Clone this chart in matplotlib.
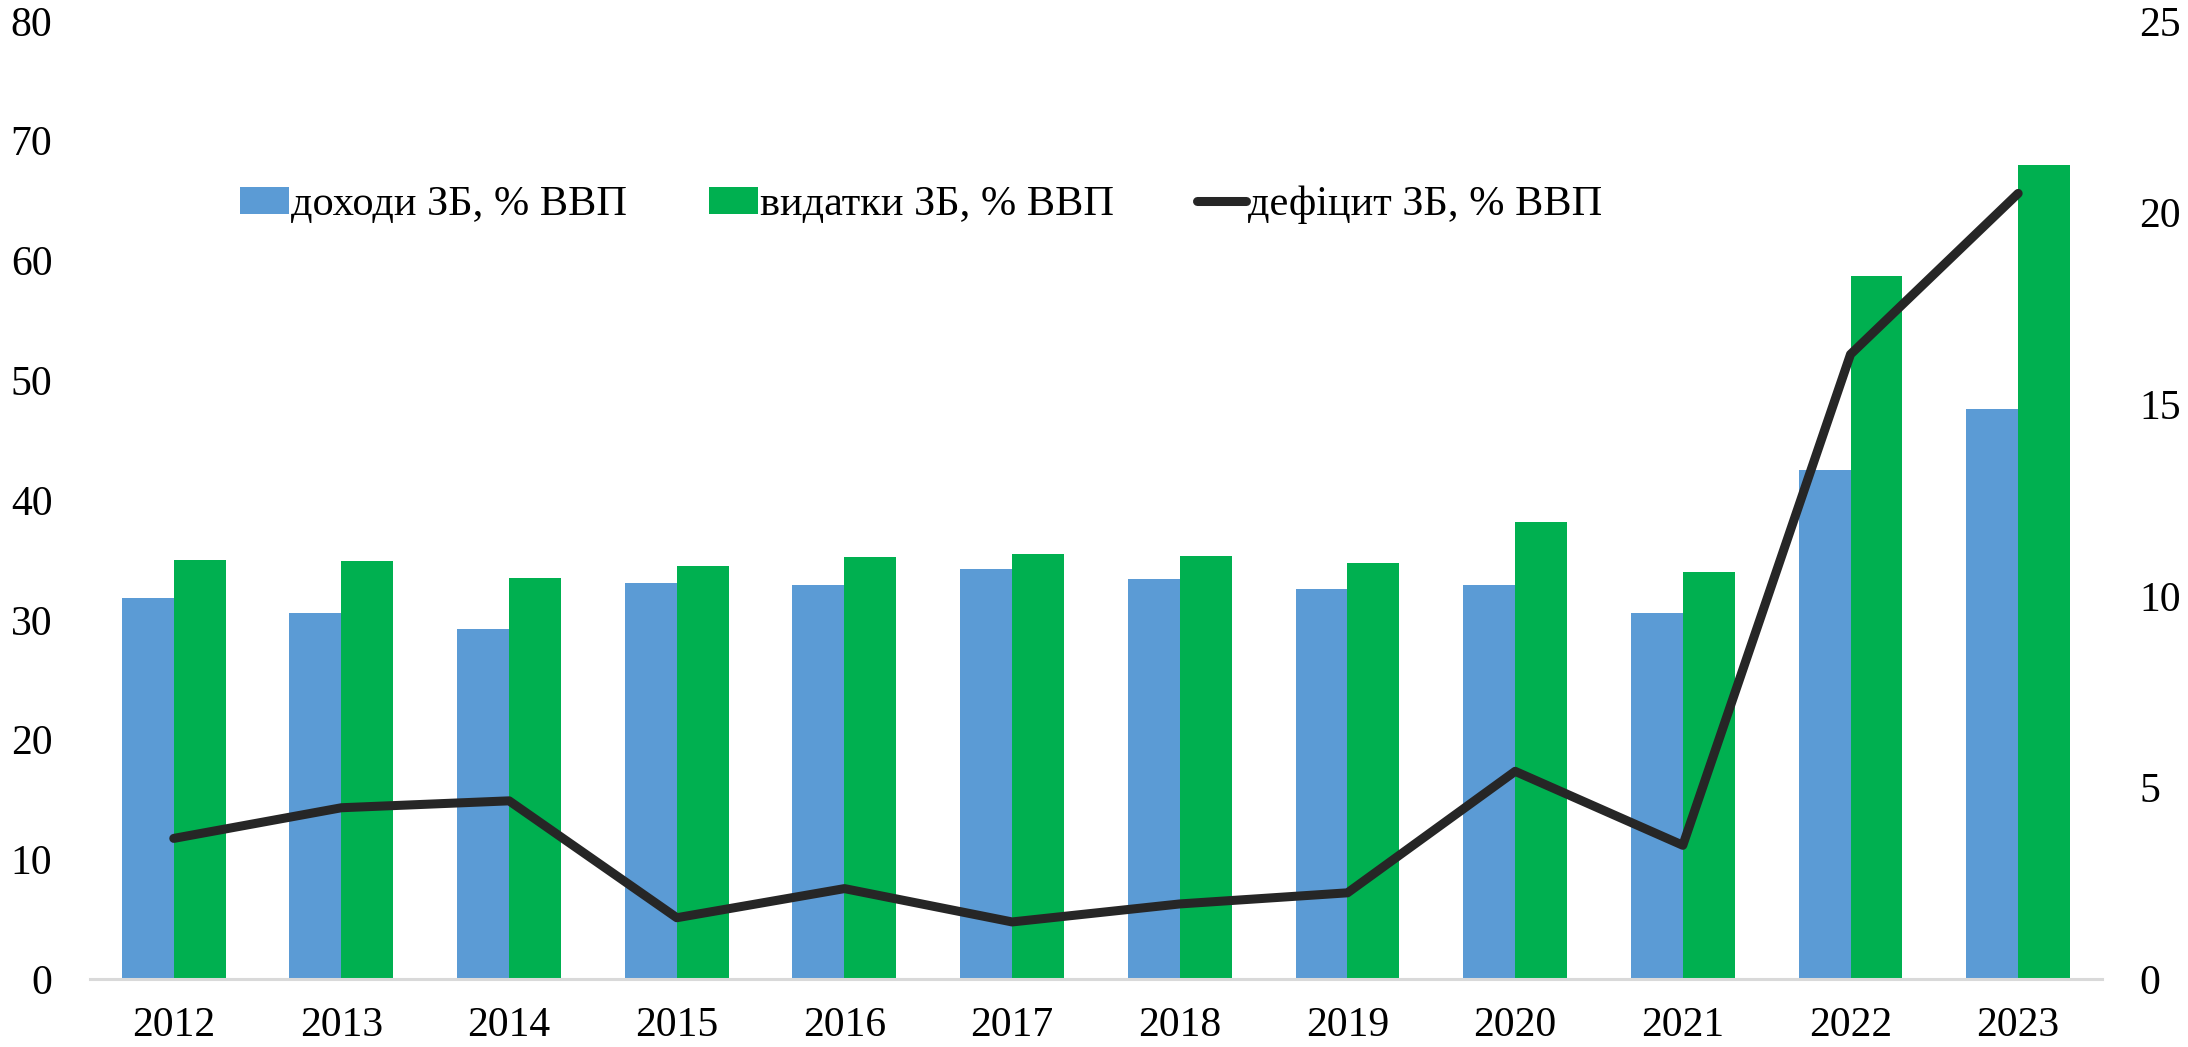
import numpy as np
import matplotlib.pyplot as plt

years = ['2012', '2013', '2014', '2015', '2016', '2017', '2018', '2019', '2020', '2021', '2022', '2023']
revenue = [31.8, 30.6, 29.2, 33.1, 32.9, 34.2, 33.4, 32.6, 32.9, 30.6, 42.5, 47.6]
spending = [35.0, 34.9, 33.5, 34.5, 35.2, 35.5, 35.3, 34.7, 38.2, 34.0, 58.7, 68.0]
deficit = [3.67, 4.47, 4.65, 1.6, 2.36, 1.49, 1.96, 2.25, 5.42, 3.49, 16.3, 20.5]

plt.rcParams['font.family'] = ['Liberation Serif', 'DejaVu Serif']

fig = plt.figure(figsize=(21.88, 10.47), dpi=100)
ax = fig.add_axes([0.0411, 0.0649, 0.9196, 0.9151])
ax2 = ax.twinx()

x = np.arange(len(years))
w = 0.31
b1 = ax.bar(x - w / 2, revenue, w, color='#5B9BD5', label='доходи ЗБ, % ВВП', zorder=2)
b2 = ax.bar(x + w / 2, spending, w, color='#00B050', label='видатки ЗБ, % ВВП', zorder=2)
l1, = ax2.plot(x, deficit, color='#262626', lw=6.5, solid_capstyle='round',
               label='дефіцит ЗБ, % ВВП', zorder=3)

ax.set_xlim(-0.5, 11.5)
ax.set_ylim(0, 80)
ax2.set_ylim(0, 25)
ax.set_yticks(range(0, 81, 10))
ax2.set_yticks(range(0, 26, 5))
ax.set_xticks(x)
ax.set_xticklabels(years)

for a in (ax, ax2):
    for s in a.spines.values():
        s.set_visible(False)
    a.tick_params(length=0, labelsize=30)
ax.spines['bottom'].set_visible(True)
ax.spines['bottom'].set_color('#d9d9d9')
ax.spines['bottom'].set_linewidth(2.2)
ax.tick_params(axis='y', pad=27)
ax.tick_params(axis='x', pad=20)
ax2.tick_params(axis='y', pad=27)

ax.legend(handles=[b1, b2, l1], loc='center', bbox_to_anchor=(0.413, 0.808), ncol=3,
          frameon=False, fontsize=30.5, handlelength=1.15, handleheight=0.6,
          handletextpad=0.05, columnspacing=1.95)

fig.savefig('out.png')
